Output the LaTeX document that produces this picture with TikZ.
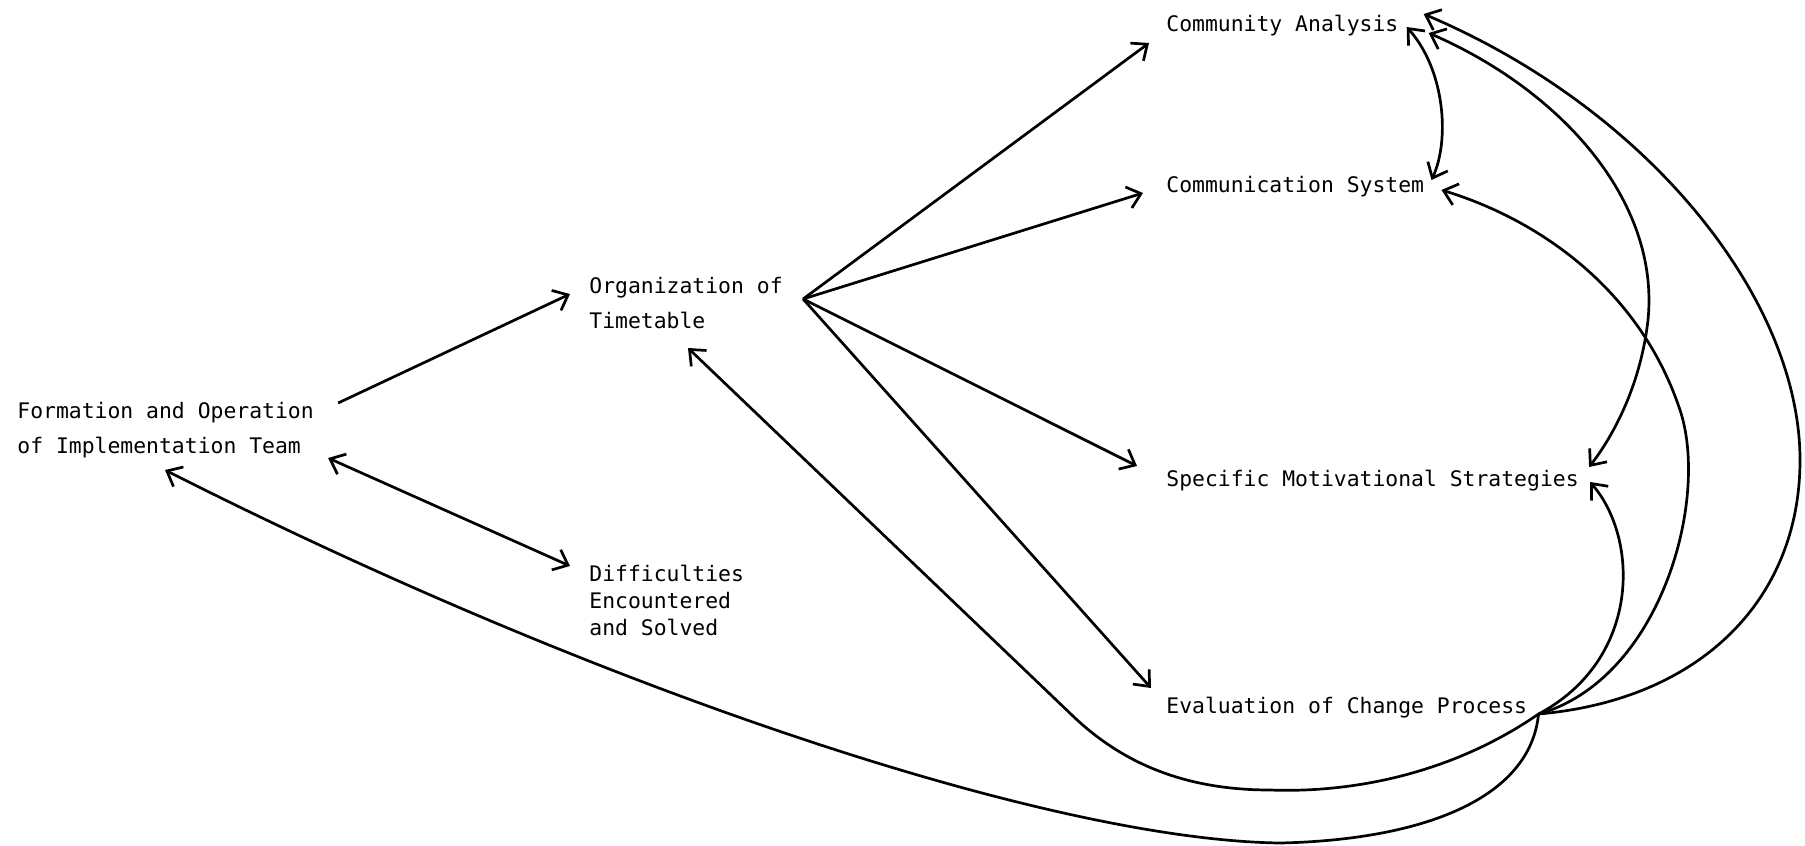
\documentclass[tikz,border=0pt]{standalone}
\usepackage{fontspec}
\usepackage{tikz}
\usetikzlibrary{arrows.meta}
\newfontfamily\dotfont{DejaVu Sans Mono}

\tikzset{
  lbl/.style={font=\dotfont\fontsize{10.7}{17.5}\selectfont, anchor=west, inner sep=0pt, align=left},
  lblsmall/.style={lbl, font=\dotfont\fontsize{10.7}{13.5}\selectfont},
  link/.style={line width=1.35pt, >={Straight Barb[length=6.5pt,width=11pt]}},
}

\begin{document}
\begin{tikzpicture}[x=0.5pt,y=-0.5pt]
  \useasboundingbox (0,0) rectangle (1805,846);
  % text blocks
  \node[lbl] (form) at (17,430) {Formation and Operation\\of Implementation Team};
  \node[lbl] (org) at (589,303) {Organization of\\Timetable};
  \node[lblsmall] (diff) at (589,600) {Difficulties\\Encountered\\and Solved};
  \node[lbl] (comm) at (1166,26) {Community Analysis};
  \node[lbl] (commsys) at (1166,187) {Communication System};
  \node[lbl] (spec) at (1166,481) {Specific Motivational Strategies};
  \node[lbl] (eval) at (1166,708) {Evaluation of Change Process};
  \coordinate (hub) at ([shift={(20,-4)}]org.east);
  \coordinate (J) at ([shift={(11,6)}]eval.east);

  % left part
  \draw[link,->] ([shift={(24,-27)}]form.east) -- ([shift={(-19,-9)}]org.west);
  \draw[link,<->] ([shift={(14,28)}]form.east) -- ([shift={(-19,-34)}]diff.west);

  % fan out of the timetable
  \draw[link,->] (hub) -- ([shift={(-17,17)}]comm.west);
  \draw[link,->] (hub) -- ([shift={(-23,6)}]commsys.west);
  \draw[link,->] (hub) -- ([shift={(-29,-15)}]spec.west);
  \draw[link,->] (hub) -- ([shift={(-15,-20)}]eval.west);

  % links on the right
  \draw[link,<->] ([shift={(8,1)}]comm.east) .. controls (1445,70) and (1450,140) .. ([shift={(7,-7)}]commsys.east);
  \draw[link,<->] ([shift={(30,7)}]comm.east) .. controls (1560,90) and (1660,200) .. (1648,320)
    .. controls (1640,390) and (1610,440) .. ([shift={(10,-14)}]spec.east);

  % feedback from the evaluation
  \draw[link,->] (J) .. controls (1640,660) and (1640,540) .. ([shift={(11,1)}]spec.east);
  \draw[link,->] (J) .. controls (1660,680) and (1710,500) .. (1680,410)
    .. controls (1640,290) and (1540,220) .. ([shift={(17,3)}]commsys.east);
  \draw[link,->] (J) .. controls (1700,700) and (1800,600) .. (1800,460)
    .. controls (1800,300) and (1650,110) .. ([shift={(25,-12)}]comm.east);
  \draw[link,->] (J) .. controls (1450,775) and (1350,793) .. (1270,790)
    .. controls (1180,790) and (1120,760) .. (1075,718) -- ([shift={(99,45)}]org.west);
  \draw[link,->] (J) .. controls (1530,800) and (1420,840) .. (1280,843)
    .. controls (1050,840) and (600,690) .. ([shift={(148,40)}]form.west);
\end{tikzpicture}
\end{document}
